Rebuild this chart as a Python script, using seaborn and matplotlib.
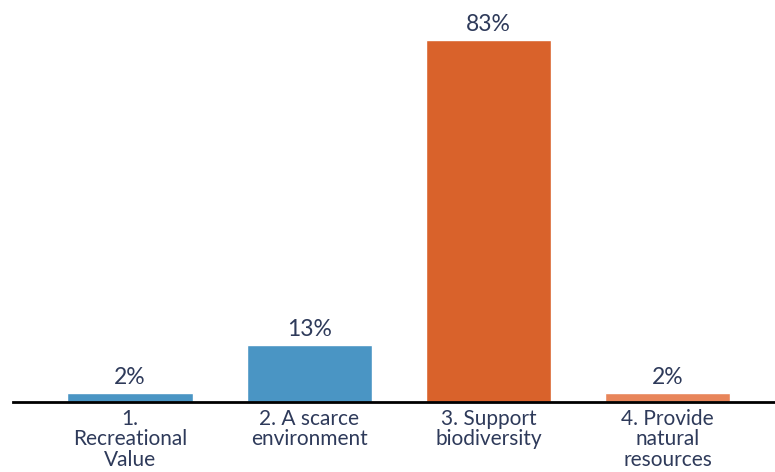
import matplotlib
matplotlib.use("Agg")
import matplotlib.pyplot as plt
import seaborn as sns
import pandas as pd

categories = ["1.\nRecreational\nValue", "2. A scarce\nenvironment",
              "3. Support\nbiodiversity", "4. Provide\nnatural\nresources"]
values = [2, 13, 83, 2]
labels = ["2%", "13%", "83%", "2%"]
colors = ["#4A95C4", "#4A95C4", "#D9622B", "#E8855A"]

df = pd.DataFrame({"category": categories, "value": values})

sns.set_theme(style="white")
plt.rcParams["font.family"] = ["Lato", "DejaVu Sans"]
text_color = "#2E3A5A"

fig = plt.figure(figsize=(7.75, 4.72), dpi=100)
ax = fig.add_axes([13 / 775, (472 - 402) / 472, 762 / 775, 402 / 472])

sns.barplot(data=df, x="category", y="value", hue="category",
            palette=colors, width=0.70, saturation=1, legend=False, ax=ax)

for patch, lab in zip(ax.patches, labels):
    ax.annotate(lab, (patch.get_x() + patch.get_width() / 2, patch.get_height()),
                xytext=(0, 4), textcoords="offset points", ha="center", va="bottom",
                fontsize=16.5, color=text_color)

ax.set_xlim(-0.654, 3.60)
ax.set_ylim(0, 92.2)
ax.set_xlabel("")
ax.set_ylabel("")
ax.set_yticks([])
for side in ["top", "left", "right"]:
    ax.spines[side].set_visible(False)
ax.spines["bottom"].set_color("black")
ax.spines["bottom"].set_linewidth(2)
ax.tick_params(axis="x", length=0, pad=5, labelsize=15, colors=text_color)
for t in ax.get_xticklabels():
    t.set_linespacing(1.02)

fig.savefig("out.png", dpi=100, facecolor="white")
